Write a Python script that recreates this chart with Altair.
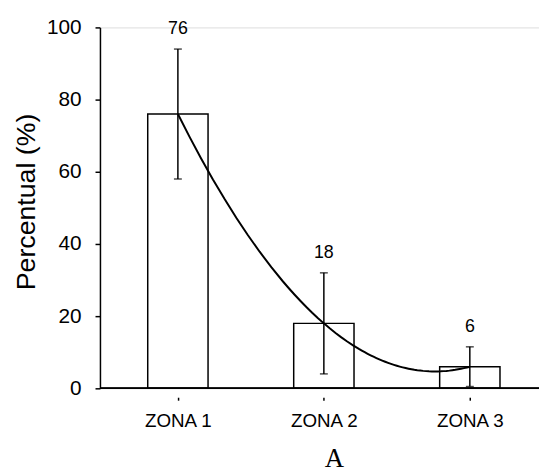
import altair as alt
import pandas as pd
import json

categories = ["ZONA 1", "ZONA 2", "ZONA 3"]
positions = [1, 2, 3]
percent = [76, 18, 6]
errors = [18, 14, 5.5]

df = pd.DataFrame({
    "cat": categories,
    "pos": positions,
    "pct": percent,
    "lo": [p - e for p, e in zip(percent, errors)],
    "hi": [p + e for p, e in zip(percent, errors)],
})

W, H = 444, 365
SANS = "Liberation Sans"

xscale = alt.Scale(domain=[0.5, 3.44], nice=False, zero=False)
yscale = alt.Scale(domain=[0, 100], nice=False)

label_expr = json.dumps(categories) + "[datum.value - 1]"

x_axis = alt.Axis(values=positions, labelExpr=label_expr, title=None, grid=False,
                  domain=False, tickSize=3, offset=9, labelPadding=12,
                  labelFont=SANS, labelFontSize=19, labelColor="black",
                  tickColor="black", tickWidth=1.5)
y_axis = alt.Axis(values=[0, 20, 40, 60, 80, 100], title="Percentual (%)", grid=False,
                  tickSize=5, labelPadding=14, labelFont=SANS, labelFontSize=21,
                  labelColor="black", domainColor="black", domainWidth=1.5,
                  tickColor="black", tickWidth=1.5,
                  titleFont=SANS, titleFontSize=27, titleFontWeight="normal",
                  titleColor="black", titleX=-74, titleY=176, titleAlign="center",
                  titleBaseline="middle", titleAngle=270)

base = alt.Chart(df)
X = alt.X("pos:Q", scale=xscale, axis=x_axis)

bars = base.mark_bar(size=61, fill="white", stroke="black", strokeWidth=1.5).encode(
    x=X, y=alt.Y("pct:Q", scale=yscale, axis=y_axis))

err = base.mark_rule(color="black", strokeWidth=1.5).encode(
    x=alt.X("pos:Q", scale=xscale), y=alt.Y("lo:Q", scale=yscale), y2="hi:Q")

cap_hi = base.mark_tick(orient="horizontal", size=8, thickness=1.5, color="black").encode(
    x=alt.X("pos:Q", scale=xscale), y=alt.Y("hi:Q", scale=yscale))
cap_lo = base.mark_tick(orient="horizontal", size=8, thickness=1.5, color="black").encode(
    x=alt.X("pos:Q", scale=xscale), y=alt.Y("lo:Q", scale=yscale))

labels = base.mark_text(dy=-20, font=SANS, fontSize=18, color="black", baseline="middle").encode(
    x=alt.X("pos:Q", scale=xscale), y=alt.Y("hi:Q", scale=yscale), text="pct:Q")

curve = base.transform_regression("pos", "pct", method="poly", order=2).mark_line(
    color="black", strokeWidth=2).encode(
    x=alt.X("pos:Q", scale=xscale), y=alt.Y("pct:Q", scale=yscale))

xline = base.transform_calculate(zero="0").mark_rule(color="black", strokeWidth=1.5).encode(
    x=alt.value(0), x2=alt.value(W), y=alt.Y("zero:Q", scale=yscale))

chart = alt.layer(bars, xline, err, cap_hi, cap_lo, curve, labels).properties(
    width=W, height=H,
    title=alt.TitleParams("A", orient="bottom", font="Liberation Serif",
                          fontSize=27, fontWeight="normal", color="black", dx=15, offset=16),
    autosize=alt.AutoSizeParams(type="none"),
    padding={"left": 93, "top": 17, "right": 0, "bottom": 84},
).configure_view(stroke=None).configure(background="white")

chart.save("out.html", embed_options={"renderer": "svg", "actions": False})
